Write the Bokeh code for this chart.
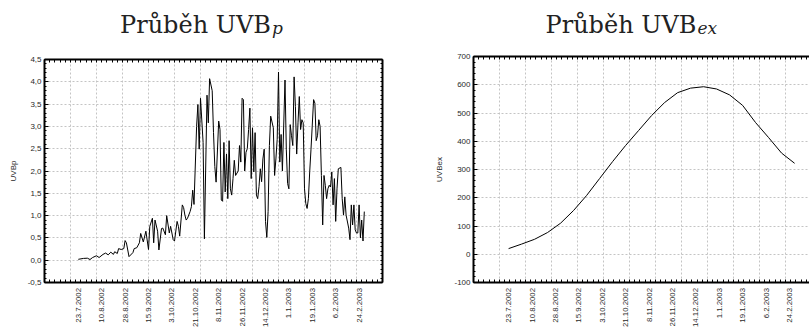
import math
from bokeh.plotting import figure
from bokeh.models import Range1d, FixedTicker, LinearAxis
from bokeh.layouts import row, column
from bokeh.core.properties import value
from bokeh.embed import file_html
from bokeh.resources import INLINE

# ---- data (x = days after 23.7.2002) ----
tick_days = [0, 18, 36, 54, 72, 90, 108, 126, 144, 162, 180, 198, 216]
tick_labels = ["23.7.2002", "10.8.2002", "28.8.2002", "15.9.2002", "3.10.2002",
               "21.10.2002", "8.11.2002", "26.11.2002", "14.12.2002", "1.1.2003",
               "19.1.2003", "6.2.2003", "24.2.2003"]

uvbp_days = [0, 4, 7, 9, 11, 14, 16, 19, 21, 23,
             25, 27, 28, 30, 31, 33, 35, 36, 37, 39,
             42, 43, 45, 47, 48, 50, 52, 54, 55, 57,
             58, 59, 61, 62, 64, 65, 67, 68, 70, 71,
             73, 74, 76, 77, 78, 80, 81, 82, 83, 84,
             86, 87, 88, 89, 91, 92, 93, 94, 96, 97,
             99, 100, 101, 103, 104, 105, 106,
             108, 109, 110, 111, 112, 113, 114, 115, 116, 117,
             118, 119, 120, 121, 123, 124, 125, 126, 127, 128,
             129, 130, 131, 132, 133, 134, 135, 136, 137, 138,
             139, 140, 141, 142, 143, 144, 145, 146, 147, 148,
             150, 151, 152, 153, 154, 155, 156, 157, 159, 160,
             161, 162, 163, 164, 165, 166, 167, 168, 169, 170,
             171, 172, 173, 174, 175, 176, 177, 178, 179, 181,
             182, 183, 184, 185, 186, 187, 188, 189, 190, 191,
             192, 193, 194, 195, 196, 197, 198, 199, 200, 202,
             203, 204, 205, 206, 208, 209, 210, 211, 212, 213,
             214, 215, 216, 217, 218, 219, 220]
uvbp_vals = [0.02, 0.04, 0.045, 0.015, 0.06, 0.10, 0.06, 0.13, 0.16, 0.12,
             0.18, 0.13, 0.19, 0.15, 0.26, 0.24, 0.26, 0.44, 0.39, 0.08,
             0.17, 0.26, 0.28, 0.39, 0.60, 0.41, 0.65, 0.24, 0.76, 0.94,
             0.39, 0.90, 0.65, 0.23, 0.71, 0.72, 0.57, 1.00, 0.61, 0.76,
             0.46, 0.43, 0.87, 0.76, 0.54, 1.24, 1.18, 1.01, 0.90, 0.94,
             1.09, 1.20, 1.57, 1.25, 3.00, 3.49, 2.49, 3.63, 2.64, 0.48,
             3.70, 3.08, 4.07, 3.80, 2.86, 2.10, 1.75,
             3.12, 2.93, 1.35, 1.32, 2.64, 1.53, 2.38, 1.38, 2.68, 1.60,
             1.46, 1.83, 2.24, 1.90, 2.00, 2.57, 2.20, 3.63, 3.60, 2.00,
             2.42, 2.50, 2.93, 3.41, 1.83, 2.97, 1.98, 2.86, 1.46, 1.38,
             1.65, 2.05, 1.76, 2.27, 2.49, 0.87, 0.51, 1.09, 2.57, 3.23,
             2.97, 1.90, 2.27, 2.71, 4.22, 2.20, 2.82, 2.00, 4.04, 2.49,
             1.72, 1.60, 3.04, 2.79, 2.57, 4.11, 3.45, 2.38, 3.08, 3.67,
             2.93, 3.15, 3.08, 1.60, 1.27, 1.16, 1.38, 1.98, 2.49, 3.60,
             3.52, 2.68, 2.79, 3.15, 3.00, 1.90, 0.79, 1.90, 1.68, 1.38,
             1.60, 1.68, 1.64, 1.98, 1.24, 1.83, 0.87, 1.60, 2.05, 2.08,
             1.38, 1.01, 1.42, 1.01, 0.72, 0.46, 1.24, 0.79, 1.24, 0.68,
             0.61, 0.61, 1.24, 0.50, 0.90, 0.43, 1.09]

uvbex_days = [0, 10, 20, 30, 40, 50, 60, 70, 80, 90, 100, 110, 120, 130,
              140, 150, 160, 170, 180, 190, 200, 210, 220]
uvbex_vals = [20, 36, 53, 77, 110, 155, 208, 268, 328, 385, 438, 491, 537, 572,
              588, 593, 585, 564, 527, 466, 413, 358, 322]

left_y_ticks = [-0.5, 0.0, 0.5, 1.0, 1.5, 2.0, 2.5, 3.0, 3.5, 4.0, 4.5]
left_y_labels = ["-0,5", "0,0", "0,5", "1,0", "1,5", "2,0", "2,5", "3,0", "3,5", "4,0", "4,5"]
right_y_ticks = [-100, 0, 100, 200, 300, 400, 500, 600, 700]
right_y_labels = ["-100", "0", "100", "200", "300", "400", "500", "600", "700"]

TICK_FONT = "Liberation Sans"
TICK_COLOR = "#2a2a2a"
GRID_COLOR = "#c4c4c4"
TITLE_H = 42
STRIP_H = 40
TOTAL_H = 327
BOTTOM_BORDER = 5


def strip_fig(x_range, width, bl, br, height):
    f = figure(width=width, height=height, output_backend="svg", toolbar_location=None,
               x_range=x_range, y_range=Range1d(height, 0),
               x_axis_type=None, y_axis_type=None)
    f.min_border_left = bl
    f.min_border_right = br
    f.min_border_top = 0
    f.min_border_bottom = 0
    f.outline_line_color = None
    f.grid.visible = False
    return f


def make_panel(days, vals, x0, x1, y0, y1, yt, yl, y_minor_step, width, bl, br, bt,
               ylabel, title_x, sub, with_right):
    p = figure(width=width, height=TOTAL_H - TITLE_H - STRIP_H, output_backend="svg",
               toolbar_location=None, x_range=Range1d(x0, x1), y_range=Range1d(y0, y1))
    p.min_border_left = bl
    p.min_border_right = br
    p.min_border_top = bt
    p.min_border_bottom = BOTTOM_BORDER
    p.outline_line_color = None
    p.background_fill_color = "white"
    p.border_fill_color = "white"

    x_minor = []
    v = x0
    while v <= x1 + 1e-9:
        x_minor.append(v)
        v += 4
    grid_x = []
    v = x0 + 20
    while v < x1 - 1:
        grid_x.append(v)
        v += 20
    n_minor = int(round((y1 - y0) / y_minor_step))
    y_minor = [y0 + i * y_minor_step for i in range(n_minor + 1)]

    # bottom axis: ticks only (date labels hang below in the strip)
    xa = p.xaxis[0]
    xa.ticker = FixedTicker(ticks=[], minor_ticks=x_minor)
    xa.major_label_standoff = 0
    xa.major_tick_in = 0
    xa.major_tick_out = 0
    xa.minor_tick_in = 3
    xa.minor_tick_out = 0
    xa.axis_line_width = 2
    xa.axis_line_color = "black"

    # left axis
    ya = p.yaxis[0]
    ya.ticker = FixedTicker(ticks=yt, minor_ticks=y_minor)
    ya.major_label_overrides = {t: s for t, s in zip(yt, yl)}
    ya.major_label_text_font = TICK_FONT
    ya.major_label_text_font_size = "8px"
    ya.major_label_text_color = TICK_COLOR
    ya.major_label_standoff = 3
    ya.major_tick_in = 4
    ya.major_tick_out = 0
    ya.minor_tick_in = 2
    ya.minor_tick_out = 0
    ya.axis_line_width = 2
    ya.axis_line_color = "black"
    ya.axis_label = ylabel
    ya.axis_label_text_font = TICK_FONT
    ya.axis_label_text_font_size = "8px"
    ya.axis_label_text_font_style = "normal"
    ya.axis_label_text_color = TICK_COLOR
    ya.axis_label_standoff = 7

    # top axis (box)
    ta = LinearAxis(ticker=FixedTicker(ticks=[], minor_ticks=x_minor))
    ta.major_tick_in = 0
    ta.major_tick_out = 0
    ta.minor_tick_in = 3
    ta.minor_tick_out = 0
    ta.major_label_standoff = 0
    ta.axis_line_width = 2
    p.add_layout(ta, "above")

    if with_right:
        ra = LinearAxis(ticker=FixedTicker(ticks=[], minor_ticks=y_minor))
        ra.major_tick_in = 0
        ra.major_tick_out = 0
        ra.minor_tick_in = 2
        ra.minor_tick_out = 0
        ra.major_label_standoff = 0
        ra.axis_line_width = 2
        p.add_layout(ra, "right")

    p.xgrid.ticker = FixedTicker(ticks=grid_x)
    for g in (p.xgrid[0], p.ygrid[0]):
        g.grid_line_color = GRID_COLOR
        g.grid_line_dash = "2 2"
        g.grid_line_width = 1

    p.line(days, vals, line_color="black", line_width=1)

    # title strip sharing the x scale
    t = strip_fig(p.x_range, width, bl, br, TITLE_H)
    t.text(x=[title_x], y=[24], text=["Průběh UVB"], text_font=value("DejaVu Serif"),
           text_font_size=value("24px"), text_align="right", text_baseline="alphabetic",
           text_color="#222222")
    t.text(x=[title_x], y=[27.5], text=[sub], text_font=value("DejaVu Serif"),
           text_font_size=value("17px"), text_font_style="italic", text_align="left",
           text_baseline="alphabetic", x_offset=1, text_color="#222222")

    # date labels under the axis, placed on the shared x scale
    s = strip_fig(p.x_range, width, bl, br, STRIP_H)
    s.text(x=tick_days, y=[0.5] * len(tick_days), text=tick_labels, angle=math.pi / 2,
           text_font=value(TICK_FONT), text_font_size=value("7.8px"), text_align="right",
           text_baseline="middle", text_color=TICK_COLOR)
    return column(t, p, s)


c1 = make_panel(uvbp_days, uvbp_vals, -26, 234, -0.5, 4.5, left_y_ticks, left_y_labels, 0.1,
                400, 44, 18, 17, "UVBp", 148.2, "p", True)
c2 = make_panel(uvbex_days, uvbex_vals, -27, 231.46, -100, 700, right_y_ticks, right_y_labels, 20,
                409, 73, 0, 14, "UVBex", 144.5, "ex", False)

layout = row(c1, c2)
open("out.html", "w").write(file_html(layout, INLINE))
